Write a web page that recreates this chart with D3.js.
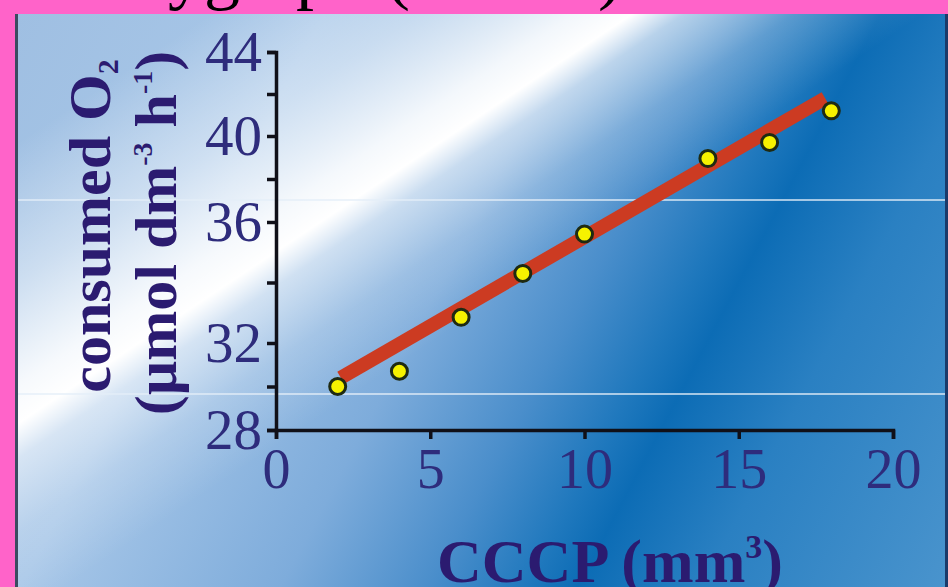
<!DOCTYPE html>
<html>
<head>
<meta charset="utf-8">
<script src="https://cdn.jsdelivr.net/npm/d3@7"></script>
<style>
  html, body { margin: 0; padding: 0; background: #ff63c9; }
  svg { display: block; }
</style>
</head>
<body>
<svg id="chart" width="948" height="587"></svg>
<script>
// data
const cccp = [2, 4, 6, 8, 10, 14, 16, 18];             // mm3
const o2 = [30.0, 30.7, 32.85, 34.3, 35.6, 38.95, 39.7, 41.2]; // umol dm-3 h-1
const fitX = [2.1, 17.8];
const fitY = [30.4, 41.8];
const xTicks = [0, 5, 10, 15, 20];
const yTicks = [28, 30, 32, 34, 36, 38, 40, 42, 44];
const yLabels = [28, 32, 36, 40, 44];

const svg = d3.select("#chart");
const W = 948, H = 587;

// pink page
svg.append("rect").attr("width", W).attr("height", H).attr("fill", "#ff63c9");

// clipped title behind the panel, only descenders show
svg.append("text")
    .attr("x", 80).attr("y", -4)
    .attr("font-family", "Liberation Serif, Times New Roman, serif")
    .attr("font-size", 72)
    .attr("fill", "#000")
    .text("Oxygraph (results)");

const defs = svg.append("defs");

// base blue gradient (dark band running top right to bottom middle)
const g1 = defs.append("linearGradient")
    .attr("id", "base").attr("gradientUnits", "userSpaceOnUse")
    .attr("x1", 15).attr("y1", 14).attr("x2", 981).attr("y2", 526);
[[0, "#9fbfe2"], [0.25, "#a8c7e8"], [0.46, "#7eacdb"], [0.58, "#4a8ecb"],
 [0.66, "#1f78bd"], [0.70, "#0c6cb5"], [0.80, "#2a80c2"], [1, "#4a94cd"]]
    .forEach(s => g1.append("stop").attr("offset", s[0]).attr("stop-color", s[1]));

// white diagonal glare
const g2 = defs.append("linearGradient")
    .attr("id", "glare").attr("gradientUnits", "userSpaceOnUse")
    .attr("x1", 15).attr("y1", 14).attr("x2", 415).attr("y2", 614);
[[0, 0], [0.15, 0], [0.31, 0.45], [0.43, 0.9], [0.475, 1], [0.515, 0.55],
 [0.6, 0.2], [0.7, 0], [1, 0]]
    .forEach(s => g2.append("stop").attr("offset", s[0])
        .attr("stop-color", "#ffffff").attr("stop-opacity", s[1]));

svg.append("rect").attr("x", 15).attr("y", 14).attr("width", 931).attr("height", H - 14)
    .attr("fill", "url(#base)");
svg.append("rect").attr("x", 15).attr("y", 14).attr("width", 931).attr("height", H - 14)
    .attr("fill", "url(#glare)");

// panel edges
svg.append("rect").attr("x", 15).attr("y", 14).attr("width", 3).attr("height", H - 14).attr("fill", "#3b4b60");
svg.append("rect").attr("x", 945).attr("y", 14).attr("width", 3).attr("height", H - 14).attr("fill", "#1a3a6a");

// stitching streaks in the scan
[200, 394].forEach(yy => {
    svg.append("rect").attr("x", 18).attr("y", yy - 1).attr("width", 927).attr("height", 2)
        .attr("fill", "#e4eef8").attr("opacity", 0.7);
});

// scales
const x = d3.scaleLinear().domain([0, 20]).range([276, 893]);
const y = d3.scaleLinear().domain([28, 32, 36, 40, 44]).range([430, 343, 222, 136, 52]);

const serif = "Liberation Serif, Times New Roman, serif";

// axes
const xAxis = svg.append("g")
    .attr("transform", `translate(0,${y(28)})`)
    .call(d3.axisBottom(x).tickValues(xTicks).tickSize(9).tickPadding(9));
const yAxis = svg.append("g")
    .attr("transform", `translate(${x(0)},0)`)
    .call(d3.axisLeft(y).tickValues(yTicks).tickSize(9).tickPadding(5)
        .tickFormat(d => yLabels.includes(d) ? d : ""));

[xAxis, yAxis].forEach(a => {
    a.selectAll("path, line").attr("stroke", "#101018").attr("stroke-width", 3.5);
    a.selectAll("text")
        .attr("font-family", serif)
        .attr("fill", "#2e2c7c");
});
xAxis.selectAll("text").attr("font-size", 56);
yAxis.selectAll("text").attr("font-size", 57);

// fitted line
svg.append("path")
    .attr("d", d3.line()(fitX.map((v, i) => [x(v), y(fitY[i])])))
    .attr("stroke", "#cc3b22")
    .attr("stroke-width", 14)
    .attr("fill", "none");

// points
svg.append("g").selectAll("circle")
    .data(cccp)
    .join("circle")
    .attr("cx", d => x(d))
    .attr("cy", (d, i) => y(o2[i]))
    .attr("r", 8)
    .attr("fill", "#f6f200")
    .attr("stroke", "#1e2a12")
    .attr("stroke-width", 3);

// axis titles
const titleColor = "#2b1b70";

const yt1 = svg.append("text")
    .attr("transform", "translate(110,226) rotate(-90)")
    .attr("text-anchor", "middle")
    .attr("font-family", serif).attr("font-weight", "bold")
    .attr("font-size", 60).attr("fill", titleColor);
yt1.append("tspan").text("consumed O");
yt1.append("tspan").attr("font-size", 30).attr("dy", 8).text("2");

const yt2 = svg.append("text")
    .attr("transform", "translate(176,233) rotate(-90)")
    .attr("text-anchor", "middle")
    .attr("font-family", serif).attr("font-weight", "bold")
    .attr("font-size", 60).attr("fill", titleColor);
yt2.append("tspan").text("(\u00b5mol dm");
yt2.append("tspan").attr("font-size", 28).attr("dy", -24).text("-3");
yt2.append("tspan").attr("dy", 24).text(" h");
yt2.append("tspan").attr("font-size", 28).attr("dy", -24).text("-1");
yt2.append("tspan").attr("dy", 24).text(")");

const xt = svg.append("text")
    .attr("x", 610).attr("y", 582)
    .attr("text-anchor", "middle")
    .attr("font-family", serif).attr("font-weight", "bold")
    .attr("font-size", 62).attr("fill", titleColor);
xt.append("tspan").text("CCCP (mm");
xt.append("tspan").attr("font-size", 34).attr("dy", -24).text("3");
xt.append("tspan").attr("dy", 24).text(")");
</script>
</body>
</html>
